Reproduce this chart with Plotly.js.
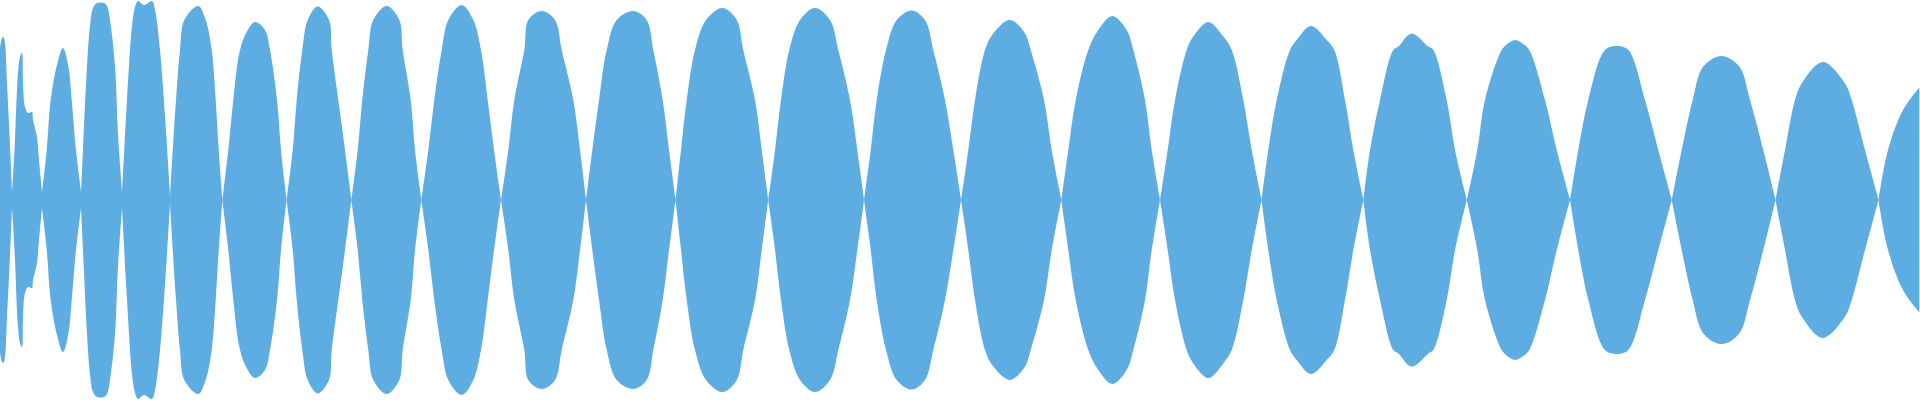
<!DOCTYPE html>
<html>
<head>
<meta charset="utf-8">
<script src="https://cdn.plot.ly/plotly-3.0.1.min.js"></script>
<style>html,body{margin:0;padding:0;background:#fff;}#chart{width:1920px;height:400px;}</style>
</head>
<body>
<div id="chart"></div>
<script>
// Envelope of the waveform, one sub-array per lobe (amplitude on a -1..1 scale)
const lobesX = [
  [0, 2, 3.5, 5, 7, 9, 12],
  [12, 13, 15, 18, 20, 22, 23, 25, 28, 32, 33, 37, 39, 42],
  [42, 46.7, 50.7, 56.7, 63, 68.3, 71.7, 76, 81],
  [81, 83, 87, 90, 93, 97, 104, 107, 110, 115, 118, 122],
  [122, 127, 132, 135, 138, 144, 152, 155, 160, 165, 170],
  [170, 172.7, 176, 180, 184.3, 198.3, 205.7, 211.7, 215.7, 218.7, 222.3],
  [222.3, 228.3, 233.3, 240, 247.7, 255, 265, 270, 277, 281, 286.5],
  [286.5, 292.7, 296.7, 302.3, 307.7, 317.7, 329, 331.7, 338.3, 345, 351.3],
  [351.3, 357.7, 362.3, 368.3, 373.3, 386.7, 399.3, 402.7, 410.7, 415, 421.3],
  [421.3, 428.3, 434.3, 441.7, 448.3, 461.7, 473.3, 481, 487.7, 494, 501],
  [501, 508.3, 514.3, 524.3, 528.3, 541.7, 555, 561.7, 573.3, 580, 586],
  [586, 592.3, 599, 606.7, 616.7, 633.3, 646.7, 653.3, 662.7, 669, 675.5],
  [675.5, 681, 686.7, 695, 706, 722.7, 736.7, 743.3, 755, 761.7, 768.2],
  [768.2, 775, 781, 789.3, 800, 815, 830, 838.3, 850, 857.3, 864],
  [864, 870.7, 876.7, 886, 896.7, 911.7, 925, 933.3, 945, 953.3, 961],
  [961, 968.3, 975, 985, 993.3, 1010, 1025, 1030.7, 1044, 1051.7, 1061.3],
  [1061.3, 1068.3, 1075.7, 1088.3, 1098.3, 1112.3, 1126.7, 1133.3, 1145, 1151.7, 1160],
  [1160, 1167.7, 1175, 1186.7, 1193.3, 1208.3, 1223.3, 1231.7, 1243.3, 1251.7, 1261.5],
  [1261.5, 1268.3, 1276.7, 1290, 1296.7, 1311, 1326.7, 1334.3, 1345, 1353.3, 1363.3],
  [1363.3, 1370, 1380, 1393.3, 1398.3, 1411.7, 1428.3, 1433.3, 1446.7, 1455, 1466.8],
  [1466.8, 1477.3, 1485, 1501.7, 1507.3, 1515, 1523.3, 1529.3, 1545, 1556.7, 1570],
  [1570, 1578.3, 1588.3, 1605, 1616.7, 1628.3, 1645, 1658.3, 1671.7],
  [1671.7, 1681.7, 1692.7, 1703.3, 1721.7, 1739.3, 1750, 1763.3, 1775.5],
  [1775.5, 1785, 1795, 1801.7, 1822.7, 1845, 1851.7, 1865, 1878.5],
  [1878.5, 1888, 1903, 1919.3]
];
const lobesAmp = [
  [0.76, 0.81, 0.815, 0.785, 0.585, 0.385, 0.04],
  [0.04, 0.115, 0.30, 0.635, 0.715, 0.735, 0.585, 0.465, 0.435, 0.44, 0.40, 0.315, 0.20, 0.04],
  [0.04, 0.25, 0.5, 0.67, 0.76, 0.67, 0.5, 0.25, 0.04],
  [0.04, 0.25, 0.67, 0.87, 0.96, 0.985, 0.985, 0.97, 0.90, 0.67, 0.33, 0.04],
  [0.04, 0.50, 0.87, 0.965, 0.995, 0.975, 0.995, 0.95, 0.75, 0.42, 0.02],
  [0.02, 0.25, 0.5, 0.75, 0.90, 0.97, 0.90, 0.75, 0.5, 0.25, 0],
  [0, 0.25, 0.5, 0.75, 0.85, 0.89, 0.85, 0.75, 0.5, 0.25, 0],
  [0, 0.25, 0.5, 0.75, 0.90, 0.967, 0.90, 0.75, 0.5, 0.25, 0],
  [0, 0.25, 0.5, 0.75, 0.90, 0.97, 0.90, 0.75, 0.5, 0.25, 0],
  [0, 0.25, 0.5, 0.75, 0.90, 0.975, 0.90, 0.75, 0.5, 0.25, 0],
  [0, 0.25, 0.5, 0.75, 0.90, 0.945, 0.90, 0.75, 0.5, 0.25, 0],
  [0, 0.25, 0.5, 0.75, 0.90, 0.945, 0.90, 0.75, 0.5, 0.25, 0],
  [0, 0.25, 0.5, 0.75, 0.90, 0.96, 0.90, 0.75, 0.5, 0.25, 0],
  [0, 0.25, 0.5, 0.75, 0.90, 0.96, 0.90, 0.75, 0.5, 0.25, 0],
  [0, 0.25, 0.5, 0.75, 0.90, 0.948, 0.90, 0.75, 0.5, 0.25, 0],
  [0, 0.25, 0.5, 0.75, 0.833, 0.90, 0.833, 0.75, 0.5, 0.25, 0],
  [0, 0.25, 0.5, 0.75, 0.85, 0.92, 0.85, 0.75, 0.5, 0.25, 0],
  [0, 0.25, 0.5, 0.75, 0.817, 0.89, 0.817, 0.75, 0.5, 0.25, 0],
  [0, 0.25, 0.5, 0.75, 0.80, 0.87, 0.80, 0.75, 0.5, 0.25, 0],
  [0, 0.25, 0.5, 0.75, 0.767, 0.833, 0.767, 0.75, 0.5, 0.25, 0],
  [0, 0.25, 0.5, 0.75, 0.78, 0.80, 0.78, 0.75, 0.5, 0.25, 0],
  [0, 0.25, 0.5, 0.75, 0.77, 0.75, 0.5, 0.25, 0],
  [0, 0.25, 0.5, 0.667, 0.72, 0.667, 0.5, 0.25, 0],
  [0, 0.25, 0.5, 0.583, 0.69, 0.583, 0.5, 0.25, 0],
  [0, 0.25, 0.45, 0.563]
];

const envX = [], envTop = [];
for (let k = 0; k < lobesX.length; k++) {
  for (let i = 0; i < lobesX[k].length; i++) { envX.push(lobesX[k][i]); envTop.push(lobesAmp[k][i]); }
  envX.push(null); envTop.push(null);
}
const envBottom = envTop.map(v => v === null ? null : -v);

const fillColor = '#5DADE2';
const common = {
  x: envX, type: 'scatter', mode: 'lines',
  line: {shape: 'spline', smoothing: 1, width: 0, color: fillColor},
  fill: 'tozeroy', fillcolor: fillColor, hoverinfo: 'skip', connectgaps: false
};
const traces = [
  Object.assign({}, common, {y: envTop}),
  Object.assign({}, common, {y: envBottom})
];
const layout = {
  width: 1920, height: 400,
  margin: {l: 0, r: 0, t: 0, b: 0},
  paper_bgcolor: '#ffffff', plot_bgcolor: '#ffffff',
  showlegend: false,
  xaxis: {range: [0, 1920], visible: false, fixedrange: true},
  yaxis: {range: [-1, 1], visible: false, fixedrange: true}
};
Plotly.newPlot('chart', traces, layout, {staticPlot: true, displayModeBar: false});
</script>
</body>
</html>
